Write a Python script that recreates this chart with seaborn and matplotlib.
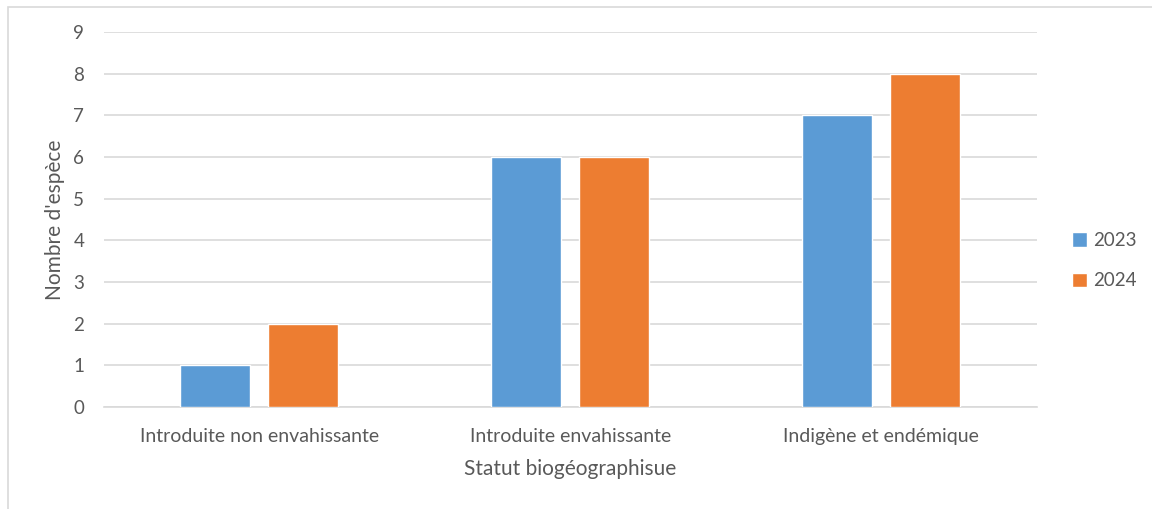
import pandas as pd
import matplotlib
matplotlib.use('Agg')
import matplotlib.pyplot as plt
import seaborn as sns
from matplotlib.patches import Rectangle

statuts = ["Introduite non envahissante", "Introduite envahissante", "Indigène et endémique"]
annees = ["2023", "2024"]
n_2023 = [1, 6, 7]
n_2024 = [2, 6, 8]

df = pd.DataFrame({
    "statut": statuts * 2,
    "annee": [annees[0]] * 3 + [annees[1]] * 3,
    "n": n_2023 + n_2024,
})

sns.set_style("white")
plt.rcParams['font.family'] = ['Lato', 'DejaVu Sans']
gris = "#595959"

fig = plt.figure(figsize=(11.52, 5.09), dpi=100)
ax = fig.add_axes([0.090, 0.2004, 0.810, 0.7366])

sns.barplot(data=df, x="statut", y="n", hue="annee", order=statuts,
            palette=["#5B9BD5", "#ED7D31"], width=0.566, gap=0.205,
            saturation=1, ax=ax, zorder=3)

ax.set_ylim(0, 9)
ax.set_yticks(range(0, 10))
ax.set_xlim(-0.5, 2.5)
ax.yaxis.grid(True, color="#D9D9D9", linewidth=1.2, zorder=0)
ax.set_axisbelow(True)
for s in ["top", "right", "left"]:
    ax.spines[s].set_visible(False)
ax.spines["bottom"].set_color("#D9D9D9")
ax.spines["bottom"].set_linewidth(1.2)
ax.tick_params(axis="x", length=0, labelsize=14, colors=gris, pad=15)
ax.tick_params(axis="y", length=0, labelsize=13.5, colors=gris, pad=14)
ax.set_xlabel("Statut biogéographisue", fontsize=15, color=gris, labelpad=10)
ax.set_ylabel("Nombre d'espèce", fontsize=15, color=gris, labelpad=6)

leg = ax.legend(loc="center left", bbox_to_anchor=(1.02, 0.39), frameon=False,
                fontsize=13.5, labelspacing=1.25, handlelength=0.8, handleheight=0.8,
                handletextpad=0.3)
for t in leg.get_texts():
    t.set_color(gris)

# chart border (cropped at right and bottom)
fig.patches.append(Rectangle((8 / 1152, -0.1), 1.2, 1 - 7 / 509 + 0.1,
                             transform=fig.transFigure, fill=False,
                             edgecolor="#D9D9D9", linewidth=1.2))

fig.savefig("out.png", dpi=100)
